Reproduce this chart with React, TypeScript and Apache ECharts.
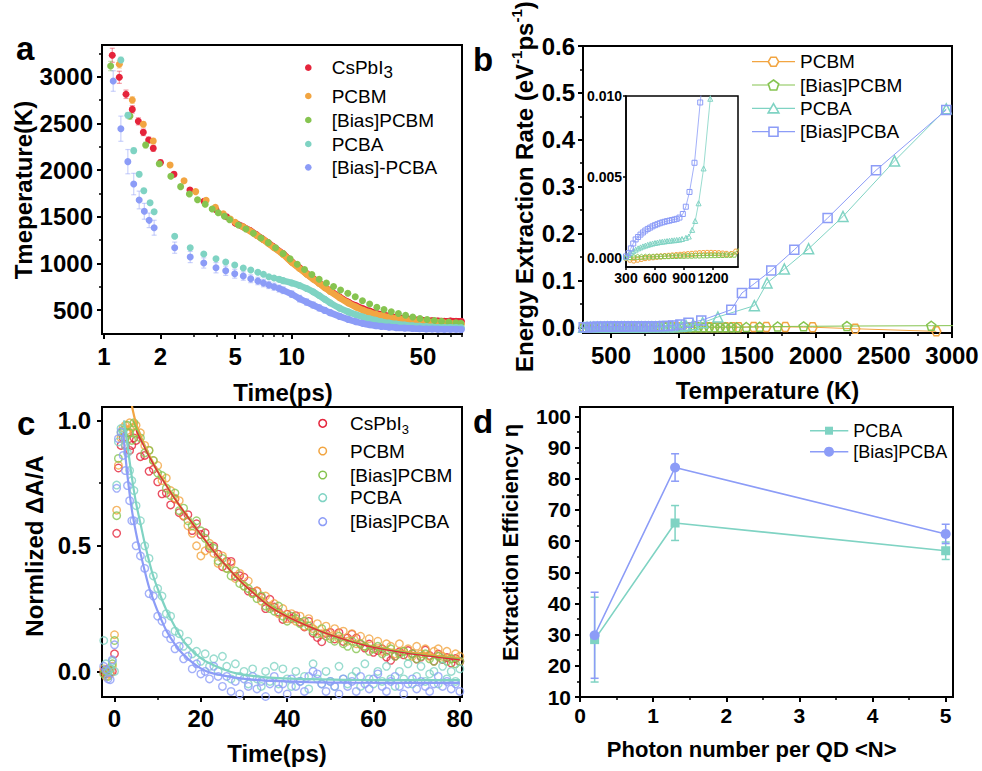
import React, { useEffect, useRef } from 'react';
import * as echarts from 'echarts';

const FONT = '"Liberation Sans", Arial, Helvetica, sans-serif';
const RED = '#e5243b';
const ORANGE = '#f2a541';
const GREEN = '#86c450';
const TEAL = '#7fd3c3';
const BLUE = '#8c9cf7';

// ---------------- Panel a : hot-carrier temperature vs time (log time)
const aNames = ['CsPbI3', 'PCBM', '[Bias]PCBM', 'PCBA', '[Bias]-PCBA'];
const aXTicks = [1, 2, 5, 10, 50];
const aXMinor = [3, 4, 6, 7, 8, 9, 20, 30, 40, 60, 70, 80];
const aYTicks = [500, 1000, 1500, 2000, 2500, 3000];
const aYMinor = [750, 1250, 1750, 2250, 2750, 3250];
// [time ps, temperature K, error K]
const aCsPbI3 = [
  [1.107, 3230, 75], [1.207, 2994, 65], [1.31, 2812, 45], [1.415, 2650, 40], [1.524, 2522, 38], [1.62, 2404, 35],
  [1.73, 2322, 32], [1.83, 2233, 32], [2.0, 2080, 28], [2.36, 1955, 25], [2.87, 1786, 22], [3.41, 1665, 20],
  [3.95, 1575, 20], [4.5, 1500, 18], [5, 1432, 18], [5.5, 1392, 16], [6, 1352, 15], [6.5, 1305, 15], [7, 1262, 14],
  [7.5, 1220, 14], [8, 1178, 13], [9, 1102, 13], [10, 1018, 12], [11, 952, 12], [12, 890, 12], [13, 838, 11],
  [14, 790, 11], [15, 746, 11], [16, 706, 10], [18, 640, 10], [20, 585, 10], [22, 545, 10], [24, 512, 10],
  [26, 488, 10], [28, 468, 10], [30, 452, 10], [33, 435, 10], [36, 421, 10], [40, 408, 10], [44, 399, 10],
  [48, 392, 10], [52, 387, 10], [56, 384, 10], [60, 382, 10], [65, 380, 10], [70, 382, 10], [75, 380, 10], [80, 378, 10],
];
const aPCBM = [
  [1.207, 3133, 40], [1.415, 2751, 35], [1.62, 2490, 30], [1.83, 2311, 28], [2.25, 2054, 25], [2.67, 1886, 22],
  [3.08, 1769, 20], [3.5, 1676, 18], [3.92, 1601, 16], [4.32, 1532, 15], [4.71, 1475, 15], [5, 1440, 14],
  [5.5, 1392, 14], [6, 1346, 13], [6.5, 1300, 13], [7, 1258, 12], [7.5, 1215, 12], [8, 1172, 12], [9, 1095, 11],
  [10, 1012, 11], [11, 945, 11], [12, 885, 10], [13, 832, 10], [14, 785, 10], [15, 740, 10], [16, 700, 10],
  [18, 632, 9], [20, 575, 9], [22, 532, 9], [24, 498, 9], [26, 473, 9], [28, 454, 9], [30, 439, 9], [33, 422, 9],
  [36, 409, 9], [40, 397, 9], [44, 388, 9], [48, 380, 9], [52, 374, 9], [56, 369, 9], [60, 365, 9], [65, 360, 9],
  [70, 356, 9], [75, 353, 9], [80, 350, 9],
];
const aBiasPCBM = [
  [1.085, 3115, 50], [1.375, 2579, 35], [1.667, 2268, 30], [1.97, 2068, 25], [2.27, 1933, 22], [2.56, 1822, 20],
  [2.85, 1743, 18], [3.15, 1682, 16], [3.46, 1633, 15], [3.77, 1583, 15], [4.06, 1543, 14], [4.38, 1504, 14],
  [4.67, 1468, 13], [5.2, 1411, 13], [5.7, 1368, 12], [6.25, 1322, 12], [6.85, 1272, 12], [7.5, 1222, 11],
  [8.2, 1168, 11], [9.0, 1105, 11], [9.8, 1048, 10], [10.7, 990, 10], [11.7, 935, 10], [12.8, 880, 10],
  [14.0, 830, 10], [15.3, 790, 10], [16.7, 752, 10], [18.2, 715, 9], [19.9, 680, 9], [21.8, 643, 9],
  [23.8, 600, 9], [26.0, 565, 9], [28.4, 530, 9], [31.0, 505, 9], [33.9, 482, 9], [37.0, 462, 9], [40.4, 443, 9],
  [44.1, 425, 9], [48.2, 410, 9], [52.6, 398, 9], [57.5, 388, 9], [62.8, 378, 9], [68.6, 370, 9], [74.9, 362, 9],
  [79.5, 358, 9],
];
const aPCBA = [
  [1.23, 3180, 30], [1.34, 2587, 30], [1.44, 2208, 28], [1.54, 1954, 25], [1.63, 1779, 25], [1.76, 1650, 22],
  [1.85, 1553, 22], [2.38, 1290, 20], [2.88, 1168, 18], [3.4, 1100, 16], [3.95, 1050, 15], [4.45, 1014, 15],
  [4.97, 982, 14], [5.52, 950, 14], [6.05, 929, 13], [6.6, 904, 13], [7.07, 883, 12], [7.55, 857, 12],
  [8.05, 843, 12], [8.56, 829, 12], [9, 815, 14], [10, 790, 14], [11, 762, 14], [12, 730, 14], [13, 695, 14],
  [14, 655, 14], [15, 615, 14], [16, 578, 14], [18, 520, 13], [20, 480, 13], [22, 450, 12], [24, 425, 12],
  [26, 405, 12], [28, 390, 11], [30, 375, 11], [33, 360, 11], [36, 350, 10], [40, 340, 10], [44, 332, 10],
  [48, 327, 10], [52, 322, 10], [56, 318, 10], [60, 315, 10], [65, 313, 10], [70, 312, 10], [75, 311, 10], [80, 310, 10],
];
const aBiasPCBA = [
  [1.12, 2954, 110], [1.23, 2443, 135], [1.34, 2090, 130], [1.44, 1850, 115], [1.54, 1679, 95], [1.64, 1558, 85],
  [1.74, 1461, 78], [1.85, 1382, 80], [2.38, 1168, 60], [2.88, 1068, 60], [3.4, 1004, 55], [3.95, 953, 55],
  [4.45, 921, 50], [4.97, 889, 48], [5.52, 864, 45], [6.05, 835, 42], [6.6, 811, 40], [7.07, 789, 40],
  [7.55, 768, 38], [8.05, 750, 38], [8.56, 730, 38], [9, 712, 36], [10, 670, 35], [11, 622, 35], [12, 585, 34],
  [13, 553, 33], [14, 523, 32], [15, 496, 31], [16, 472, 30], [18, 432, 28], [20, 400, 26], [22, 375, 24],
  [24, 356, 22], [26, 342, 20], [28, 332, 19], [30, 325, 18], [33, 317, 17], [36, 311, 16], [40, 306, 15],
  [44, 302, 14], [48, 299, 14], [52, 297, 13], [56, 296, 13], [60, 295, 12], [65, 294, 12], [70, 293, 12],
  [75, 293, 12], [80, 292, 12],
];

// ---------------- Panel b : energy extraction rate vs temperature
const bNames = ['PCBM', '[Bias]PCBM', 'PCBA', '[Bias]PCBA'];
const bXTicks = [500, 1000, 1500, 2000, 2500, 3000];
const bXMinor = [750, 1250, 1750, 2250, 2750];
const bYTicks = [0, 0.1, 0.2, 0.3, 0.4, 0.5, 0.6];
const bYMinor = [0.05, 0.15, 0.25, 0.35, 0.45, 0.55];
const insXTicks = [300, 600, 900, 1200];
const insYTicks = [0, 0.005, 0.01];
const bPCBM = [
  [300, 0], [340, -0.0001], [380, -0.00015], [420, -0.0001], [460, -0.00005], [500, 0], [540, 0.00003],
  [580, 0.00005], [620, 0.00008], [660, 0.0001], [700, 0.00012], [740, 0.00014], [780, 0.00016], [820, 0.00018],
  [860, 0.0002], [900, 0.00022], [940, 0.00024], [980, 0.00026], [1020, 0.00028], [1060, 0.0003], [1100, 0.00031],
  [1140, 0.00032], [1180, 0.00032], [1220, 0.00031], [1260, 0.0003], [1300, 0.00028], [1340, 0.00026],
  [1390, 0.00025], [1436, 0.0004], [1546, 0.0008], [1639, 0.001], [1778, 0.001], [1978, 0.0003], [2291, -0.003],
  [2885, -0.0085],
];
const bBiasPCBM = [
  [300, 0.00005], [340, 0.00006], [380, 0.00007], [420, 0.00008], [460, 0.00008], [500, 0.00009], [540, 0.0001],
  [580, 0.0001], [620, 0.00011], [660, 0.00011], [700, 0.00012], [740, 0.00012], [780, 0.00013], [820, 0.00013],
  [860, 0.00014], [900, 0.00014], [940, 0.00015], [980, 0.00015], [1020, 0.00016], [1060, 0.00016],
  [1100, 0.00017], [1140, 0.00017], [1180, 0.00018], [1220, 0.00018], [1260, 0.00019], [1300, 0.00019],
  [1340, 0.0002], [1380, 0.0002], [1420, 0.00021], [1492, 0.0008], [1590, 0.0012], [1722, 0.0018],
  [1912, 0.0022], [2230, 0.0028], [2848, 0.0035], [3300, 0.0042],
];
const bPCBA = [
  [300, 0.00005], [325, 0.0002], [350, 0.00032], [375, 0.00043], [400, 0.00052], [425, 0.0006], [450, 0.00066],
  [475, 0.00072], [500, 0.00077], [525, 0.00082], [550, 0.00086], [575, 0.0009], [600, 0.00093], [625, 0.00096],
  [650, 0.00099], [675, 0.00101], [700, 0.00103], [725, 0.00105], [750, 0.00107], [775, 0.00109], [800, 0.0011],
  [825, 0.00112], [853, 0.00114], [880, 0.00118], [920, 0.00125], [950, 0.00133], [985, 0.00174], [1016, 0.00229],
  [1051, 0.00338], [1103, 0.00553], [1172, 0.00983], [1284, 0.0222], [1551, 0.0462], [1644, 0.0946],
  [1771, 0.1244], [1949, 0.1676], [2201, 0.2365], [2579, 0.355], [2958, 0.466],
];
const bBiasPCBA = [
  [300, 0.0001], [325, 0.0003], [350, 0.0006], [375, 0.0009], [400, 0.00115], [425, 0.0013], [450, 0.00145],
  [475, 0.00158], [500, 0.0017], [525, 0.0018], [550, 0.00188], [575, 0.00196], [600, 0.00203], [625, 0.00209],
  [650, 0.00215], [675, 0.0022], [700, 0.00224], [725, 0.00228], [750, 0.00231], [775, 0.00235], [800, 0.00238],
  [825, 0.00242], [853, 0.0025], [888, 0.00272], [919, 0.00317], [957, 0.00408], [1009, 0.00588], [1068, 0.0096],
  [1162, 0.0149], [1382, 0.0377], [1460, 0.0733], [1550, 0.093], [1675, 0.1215], [1844, 0.1655], [2088, 0.233],
  [2443, 0.335], [2958, 0.4636],
];

// ---------------- Panel c : normalized transient absorption kinetics
const cNames = ['CsPbI3', 'PCBM', '[Bias]PCBM', 'PCBA', '[Bias]PCBA'];
const cXTicks = [0, 20, 40, 60, 80];
const cXMinor = [10, 30, 50, 70];
const cYTicks = [0, 0.5, 1];
const cYMinor = [0.25, 0.75];
const cTime = [
  -2.5, -2, -1.5, -1, -0.5, 0, 0.5, 0.9, 1.5, 2, 2.5, 3, 3.5, 4, 4.5,
  5, 6, 7, 8, 9, 10, 11, 12, 13, 14, 15, 16, 17, 18, 19, 20, 21, 22, 23, 24, 25, 26, 27, 28, 29, 30,
  31, 32, 33, 34, 35, 36, 37, 38, 39, 40, 41, 42, 43, 44, 45, 46, 47, 48, 49, 50, 51, 52, 53, 54, 55,
  56, 57, 58, 59, 60, 61, 62, 63, 64, 65, 66, 67, 68, 69, 70, 71, 72, 73, 74, 75, 76, 77, 78, 79, 80,
];
const cCsPbI3 = [
  0.0, -0.01, 0.01, -0.005, 0.0, 0.07, 0.55, 0.81, 0.9, 0.93, 0.9, 0.95, 0.88, 0.9, 0.93,
  0.92, 0.855, 0.86, 0.797, 0.805, 0.755, 0.707, 0.71, 0.663, 0.687, 0.632, 0.618, 0.624, 0.561, 0.588, 0.545,
  0.552, 0.49, 0.498, 0.467, 0.417, 0.438, 0.438, 0.378, 0.381, 0.375, 0.32, 0.315, 0.32, 0.295, 0.25, 0.287,
  0.256, 0.236, 0.207, 0.228, 0.21, 0.222, 0.195, 0.177, 0.199, 0.152, 0.135, 0.118, 0.151, 0.155, 0.129,
  0.154, 0.119, 0.133, 0.148, 0.133, 0.108, 0.093, 0.109, 0.076, 0.083, 0.09, 0.057, 0.044, 0.061, 0.078,
  0.066, 0.083, 0.071, 0.049, 0.057, 0.085, 0.063, 0.041, 0.069, 0.047, 0.055, 0.033, 0.051, 0.039,
];
const cPCBM = [
  0.01, -0.02, 0.0, -0.01, 0.02, 0.146, 0.642, 0.821, 0.93, 0.97, 0.98, 0.96, 0.99, 0.97, 0.95,
  0.98, 0.95, 0.9, 0.88, 0.84, 0.82, 0.76, 0.77, 0.72, 0.69, 0.68, 0.62, 0.58, 0.55, 0.5, 0.46,
  0.48, 0.51, 0.47, 0.43, 0.46, 0.41, 0.43, 0.37, 0.39, 0.34, 0.36, 0.31, 0.32, 0.28, 0.3, 0.26,
  0.27, 0.23, 0.25, 0.21, 0.23, 0.2, 0.22, 0.18, 0.21, 0.17, 0.19, 0.15, 0.18, 0.14, 0.17, 0.13,
  0.16, 0.12, 0.15, 0.11, 0.14, 0.1, 0.13, 0.09, 0.12, 0.08, 0.11, 0.1, 0.07, 0.11, 0.08, 0.09,
  0.06, 0.1, 0.07, 0.09, 0.06, 0.08, 0.09, 0.06, 0.08, 0.05, 0.07, 0.06,
];
const cBiasPCBM = [
  -0.01, 0.0, -0.02, 0.01, 0.03, 0.123, 0.62, 0.848, 0.95, 0.96, 0.93, 0.98, 0.95, 0.92, 0.99,
  0.95, 0.93, 0.87, 0.88, 0.84, 0.79, 0.78, 0.73, 0.7, 0.71, 0.64, 0.65, 0.6, 0.58, 0.6, 0.56,
  0.53, 0.5, 0.49, 0.44, 0.45, 0.41, 0.38, 0.4, 0.35, 0.34, 0.33, 0.31, 0.29, 0.3, 0.26, 0.25,
  0.24, 0.26, 0.22, 0.2, 0.22, 0.21, 0.19, 0.2, 0.18, 0.16, 0.15, 0.17, 0.14, 0.13, 0.12, 0.14,
  0.11, 0.1, 0.12, 0.09, 0.11, 0.1, 0.08, 0.09, 0.1, 0.07, 0.08, 0.09, 0.06, 0.07, 0.08, 0.06,
  0.07, 0.05, 0.06, 0.07, 0.05, 0.04, 0.06, 0.05, 0.04, 0.05, 0.03, 0.04,
];
const cPCBA = [
  0.123, 0.03, 0.0, 0.01, 0.04, 0.0, 0.742, 0.914, 0.967, 0.95, 0.9, 0.87, 0.8, 0.76, 0.72,
  0.66, 0.6, 0.5, 0.45, 0.38, 0.33, 0.3, 0.23, 0.22, 0.16, 0.15, 0.1, 0.12, 0.07, 0.08, 0.04,
  0.07, 0.02, 0.05, 0.0, 0.06, 0.02, -0.03, 0.03, -0.02, 0.0, -0.05, 0.01, -0.03, -0.06, 0.0, -0.04,
  0.02, -0.05, 0.01, -0.03, -0.06, 0.0, -0.04, -0.02, -0.07, 0.03, -0.03, -0.05, 0.0, -0.04, -0.06,
  0.02, -0.03, -0.05, -0.02, 0.0, -0.06, 0.03, -0.03, -0.05, 0.0, -0.04, 0.02, -0.03, -0.06, 0.0,
  -0.03, 0.03, -0.05, -0.02, 0.02, -0.04, -0.01, 0.0, -0.05, 0.02, -0.03, 0.0, -0.04, 0.01,
];
const cBiasPCBA = [
  0.02, 0.007, -0.03, -0.033, 0.046, 0.106, 0.729, 0.927, 0.954, 0.86, 0.8, 0.74, 0.68, 0.6, 0.6,
  0.5, 0.46, 0.41, 0.31, 0.3, 0.22, 0.2, 0.15, 0.13, 0.09, 0.1, 0.05, 0.06, 0.01, 0.03, -0.01,
  0.0, -0.03, 0.02, -0.02, -0.06, -0.02, -0.08, -0.04, -0.09, -0.03, -0.06, -0.02, -0.07, -0.04, -0.1, -0.05,
  -0.02, -0.07, -0.05, -0.09, -0.03, -0.06, -0.04, -0.08, -0.02, 0.0, -0.01, -0.05, -0.08, -0.04, -0.06,
  -0.09, -0.03, -0.06, -0.04, -0.08, -0.02, -0.05, -0.07, -0.03, -0.01, -0.06, -0.08, -0.04, -0.02, -0.06,
  -0.09, -0.05, -0.03, -0.07, -0.04, -0.06, -0.08, -0.05, -0.02, -0.06, -0.04, -0.07, -0.05, -0.08,
];
// fitted curves [t, value]
const cFitCsPbI3 = [
  [5, 0.96], [6, 0.925], [7, 0.89], [8, 0.857], [10, 0.795], [12, 0.74], [14, 0.687], [16, 0.638], [18, 0.591],
  [20, 0.545], [22, 0.5], [24, 0.457], [26, 0.418], [28, 0.38], [30, 0.345], [33, 0.3], [36, 0.258], [40, 0.218],
  [45, 0.179], [50, 0.145], [55, 0.118], [60, 0.096], [65, 0.08], [70, 0.067], [75, 0.056], [80, 0.046],
];
const cFitPCBM = [
  [3.8, 1.08], [4.3, 1.035], [5, 0.987], [6, 0.94], [7, 0.9], [8, 0.863], [10, 0.798], [12, 0.742], [14, 0.688],
  [16, 0.638], [18, 0.591], [20, 0.545], [22, 0.5], [24, 0.457], [26, 0.418], [28, 0.38], [30, 0.346], [33, 0.301],
  [36, 0.259], [40, 0.219], [45, 0.18], [50, 0.147], [55, 0.12], [60, 0.099], [65, 0.084], [70, 0.072],
  [75, 0.061], [80, 0.052],
];
const cFitBiasPCBM = [
  [4.3, 1.0], [5, 0.972], [6, 0.93], [7, 0.893], [8, 0.859], [10, 0.796], [12, 0.74], [14, 0.687], [16, 0.637],
  [18, 0.59], [20, 0.544], [22, 0.499], [24, 0.456], [26, 0.417], [28, 0.379], [30, 0.345], [33, 0.3], [36, 0.258],
  [40, 0.218], [45, 0.179], [50, 0.146], [55, 0.119], [60, 0.098], [65, 0.082], [70, 0.069], [75, 0.058], [80, 0.049],
];
const cFitPCBA = [
  [2.2, 1.0], [3, 0.9], [4, 0.775], [5, 0.67], [6, 0.59], [7, 0.51], [8, 0.44], [9, 0.378], [10, 0.33],
  [12, 0.245], [14, 0.178], [16, 0.12], [18, 0.082], [20, 0.053], [22, 0.032], [25, 0.01], [28, -0.007],
  [32, -0.018], [38, -0.027], [45, -0.031], [55, -0.034], [80, -0.035],
];
const cFitBiasPCBA = [
  [2, 0.95], [3, 0.78], [4, 0.645], [5, 0.55], [6, 0.472], [7, 0.4], [8, 0.335], [9, 0.285], [10, 0.24],
  [12, 0.163], [14, 0.108], [16, 0.066], [18, 0.036], [20, 0.012], [22, -0.004], [25, -0.016], [28, -0.025],
  [32, -0.033], [38, -0.039], [45, -0.043], [55, -0.045], [80, -0.046],
];

// ---------------- Panel d : extraction efficiency vs photon number
const dNames = ['PCBA', '[Bias]PCBA'];
const dXTicks = [0, 1, 2, 3, 4, 5];
const dXMinor = [0.5, 1.5, 2.5, 3.5, 4.5];
const dYTicks = [10, 20, 30, 40, 50, 60, 70, 80, 90, 100];
const dYMinor = [15, 25, 35, 45, 55, 65, 75, 85, 95];
const dX = [0.2, 1.3, 5];
const dPCBA = [28.4, 65.8, 56.9];
const dPCBAErr = [13.6, 5.6, 2.8];
const dBiasPCBA = [29.8, 83.6, 62.3];
const dBiasPCBAErr = [13.8, 4.4, 3.1];

// ---------------- helpers
function axisPair(dim: 'x' | 'y', s: any) {
  const pos = dim === 'x' ? 'bottom' : 'left';
  const lw = s.lw ?? 2;
  const common: any = {
    type: s.type || 'value', gridIndex: s.grid, min: s.min, max: s.max, position: pos,
    splitLine: { show: false }, minorTick: { show: false }, minorSplitLine: { show: false },
  };
  if (s.type === 'log') common.logBase = 10;
  const major = {
    ...common,
    axisLine: { show: true, onZero: false, lineStyle: { color: '#000', width: lw } },
    axisTick: { show: true, inside: false, length: s.len, lineStyle: { color: '#000', width: lw }, customValues: s.ticks },
    axisLabel: {
      show: true, customValues: s.ticks, formatter: (v: number) => s.fmt(v), fontSize: s.size,
      fontWeight: 'bold', fontFamily: FONT, color: '#000', margin: s.margin, hideOverlap: false,
    },
  };
  const minorAx: any = {
    ...common,
    axisLine: { show: false, onZero: false },
    axisTick: { show: s.minor.length > 0, inside: false, length: s.mlen, lineStyle: { color: '#000', width: lw * 0.75 } },
    axisLabel: { show: false },
  };
  if (s.minor.length > 0) minorAx.axisTick.customValues = s.minor;
  return [major, minorAx];
}

function errorBars(data: number[][], ai: number, color: string, cap: number, lw: number, opacity: number, z: number) {
  return {
    type: 'custom', xAxisIndex: ai, yAxisIndex: ai, z, silent: true, clip: true,
    data: data.map((d) => [d[0], d[1] - d[2], d[1] + d[2]]),
    encode: { x: 0, y: [1, 2] },
    renderItem: (_p: any, api: any) => {
      const x = api.value(0);
      const lo = api.coord([x, api.value(1)]);
      const hi = api.coord([x, api.value(2)]);
      const st = { stroke: color, lineWidth: lw, opacity };
      const h = cap / 2;
      return {
        type: 'group',
        children: [
          { type: 'line', shape: { x1: lo[0], y1: lo[1], x2: hi[0], y2: hi[1] }, style: st },
          { type: 'line', shape: { x1: lo[0] - h, y1: lo[1], x2: lo[0] + h, y2: lo[1] }, style: st },
          { type: 'line', shape: { x1: hi[0] - h, y1: hi[1], x2: hi[0] + h, y2: hi[1] }, style: st },
        ],
      };
    },
  };
}

const HEX = 'path://M-10,0L-5,-8.66L5,-8.66L10,0L5,8.66L-5,8.66Z';
const PENT = 'path://M0,-10L9.51,-3.09L5.88,8.09L-5.88,8.09L-9.51,-3.09Z';

function txt(x: number, y: number, text: string, size: number, opts: any = {}) {
  return {
    type: 'text', x, y, rotation: opts.rotation || 0, z: 100, silent: true,
    style: {
      text, fill: '#000', fontSize: size, fontWeight: opts.weight || 'bold', fontFamily: FONT,
      align: opts.align || 'center', textAlign: opts.align || 'center',
      verticalAlign: 'middle', textVerticalAlign: 'middle', rich: opts.rich,
    },
  };
}

function legendLabel(x: number, y: number, name: string, size: number, subSize: number) {
  if (name === 'CsPbI3') {
    return txt(x, y, '{m|CsPbI}{s|3}', size, {
      weight: 'normal', align: 'left',
      rich: {
        m: { fontSize: size, lineHeight: size + 7, fontFamily: FONT, fill: '#000', fontWeight: 'normal' },
        s: { fontSize: subSize, lineHeight: subSize, verticalAlign: 'bottom', fontFamily: FONT, fill: '#000', fontWeight: 'normal' },
      },
    });
  }
  return txt(x, y, name, size, { weight: 'normal', align: 'left' });
}

function regPoly(cx: number, cy: number, r: number, n: number, start: number) {
  const pts: number[][] = [];
  for (let k = 0; k < n; k++) {
    const a = start + (k * 2 * Math.PI) / n;
    pts.push([cx + r * Math.cos(a), cy + r * Math.sin(a)]);
  }
  return pts;
}

function buildOption() {
  const G = { show: true, borderColor: '#000', borderWidth: 2, backgroundColor: 'rgba(0,0,0,0)', containLabel: false, outerBoundsMode: 'none' };
  const grid = [
    { ...G, left: 102, top: 45, width: 360, height: 289 },
    { ...G, left: 583, top: 46, width: 369, height: 287 },
    { ...G, left: 626, top: 96, width: 112, height: 171, borderWidth: 1.5, backgroundColor: '#fff' },
    { ...G, left: 102, top: 407, width: 360, height: 290 },
    { ...G, left: 580, top: 407, width: 373, height: 290 },
  ];
  const f0 = (v: number) => String(Math.round(v));
  const xAxis = [
    ...axisPair('x', { grid: 0, type: 'log', min: 0.976, max: 80.7, ticks: aXTicks, minor: aXMinor, fmt: f0, size: 24, margin: 10, len: 5, mlen: 3 }),
    ...axisPair('x', { grid: 1, min: 295, max: 3000, ticks: bXTicks, minor: bXMinor, fmt: f0, size: 24, margin: 10, len: 5, mlen: 3 }),
    ...axisPair('x', { grid: 2, min: 300, max: 1459, ticks: insXTicks, minor: [], fmt: f0, size: 14, margin: 4, len: 3, mlen: 2, lw: 1.5 }),
    ...axisPair('x', { grid: 3, min: -2.9, max: 80.5, ticks: cXTicks, minor: cXMinor, fmt: f0, size: 24, margin: 9, len: 5, mlen: 3 }),
    ...axisPair('x', { grid: 4, min: 0, max: 5.1, ticks: dXTicks, minor: dXMinor, fmt: f0, size: 21, margin: 8, len: 5, mlen: 3 }),
  ];
  const yAxis = [
    ...axisPair('y', { grid: 0, min: 243, max: 3340, ticks: aYTicks, minor: aYMinor, fmt: f0, size: 24, margin: 9, len: 5, mlen: 3 }),
    ...axisPair('y', { grid: 1, min: -0.012, max: 0.6, ticks: bYTicks, minor: bYMinor, fmt: (v: number) => v.toFixed(1), size: 24, margin: 8, len: 5, mlen: 3 }),
    ...axisPair('y', { grid: 2, min: -0.00055, max: 0.01, ticks: insYTicks, minor: [], fmt: (v: number) => v.toFixed(3), size: 14, margin: 4, len: 3, mlen: 2, lw: 1.5 }),
    ...axisPair('y', { grid: 3, min: -0.102, max: 1.053, ticks: cYTicks, minor: cYMinor, fmt: (v: number) => v.toFixed(1), size: 24, margin: 11, len: 5, mlen: 3 }),
    ...axisPair('y', { grid: 4, min: 10, max: 103, ticks: dYTicks, minor: dYMinor, fmt: f0, size: 21, margin: 9, len: 5, mlen: 3 }),
  ];

  const series: any[] = [];

  // panel a
  const aSets = [aCsPbI3, aPCBM, aBiasPCBM, aPCBA, aBiasPCBA];
  const aColors = [RED, ORANGE, GREEN, TEAL, BLUE];
  const aBandStart = [5, 5.5, 999, 8.5, 8.5];
  aSets.forEach((d, i) => {
    series.push(errorBars(d, 0, aColors[i], 5, 1.2, 0.45, 1));
    const band = d.filter((p) => p[0] >= aBandStart[i]);
    if (band.length > 1) {
      series.push({
        type: 'line', xAxisIndex: 0, yAxisIndex: 0, silent: true, z: 2 + i * 2,
        data: band.map((p) => [p[0], p[1]]), smooth: 0.3, showSymbol: false, symbol: 'none',
        lineStyle: { color: aColors[i], width: 6.5, cap: 'round', join: 'round' },
      });
    }
    series.push({
      type: 'scatter', name: aNames[i], xAxisIndex: 0, yAxisIndex: 0, z: 3 + i * 2, silent: true,
      data: d.map((p) => [p[0], p[1]]), symbol: 'circle', symbolSize: 7,
      itemStyle: { color: aColors[i], opacity: 1 },
    });
  });

  // panel b (main + inset)
  const bSets = [bPCBM, bBiasPCBM, bPCBA, bBiasPCBA];
  const bColors = [ORANGE, GREEN, TEAL, BLUE];
  const bSymbols = [HEX, PENT, 'triangle', 'rect'];
  [2, 4].forEach((ai) => {
    bSets.forEach((d, i) => {
      const main = ai === 2;
      series.push({
        type: 'line', name: bNames[i], xAxisIndex: ai, yAxisIndex: ai, data: d, clip: true, silent: true,
        z: 10 + i, symbol: bSymbols[i], symbolSize: main ? (i === 2 ? 10 : 9) : 5, showSymbol: true, showAllSymbol: true,
        lineStyle: { color: bColors[i], width: main ? 1 : 0.8 },
        itemStyle: { color: 'rgba(255,255,255,0)', borderColor: bColors[i], borderWidth: main ? 1.5 : 1 },
      });
    });
  });

  // panel c
  const cSets = [cCsPbI3, cPCBM, cBiasPCBM, cPCBA, cBiasPCBA];
  const cColors = [RED, ORANGE, GREEN, TEAL, BLUE];
  cSets.forEach((vals, i) => {
    series.push({
      type: 'scatter', name: cNames[i], xAxisIndex: 6, yAxisIndex: 6, z: 3 + i, silent: true,
      data: cTime.map((t, k) => [t, vals[k]]), symbol: 'circle', symbolSize: 7.5,
      itemStyle: { color: 'rgba(255,255,255,0)', borderColor: cColors[i], borderWidth: 1.4 },
    });
  });
  const cFits = [
    [cFitPCBA, TEAL, 2.2], [cFitBiasPCBA, BLUE, 2.2],
    [cFitPCBM, ORANGE, 2.2], [cFitBiasPCBM, GREEN, 1.6], [cFitCsPbI3, RED, 1.3],
  ];
  cFits.forEach(([d, col, w]: any, i) => {
    series.push({
      type: 'line', xAxisIndex: 6, yAxisIndex: 6, z: 20 + i, silent: true, clip: true,
      data: d, smooth: 0.35, showSymbol: false, symbol: 'none', lineStyle: { color: col, width: w },
    });
  });

  // panel d
  const dSets = [
    [dPCBA, dPCBAErr, TEAL, 'rect', 9],
    [dBiasPCBA, dBiasPCBAErr, BLUE, 'circle', 10],
  ];
  dSets.forEach(([vals, errs, col, sym, size]: any, i) => {
    series.push(errorBars(dX.map((x, k) => [x, vals[k], errs[k]]), 8, col, 8, 1.5, 1, 5 + i));
    series.push({
      type: 'line', name: dNames[i], xAxisIndex: 8, yAxisIndex: 8, z: 8 + i, silent: true,
      data: dX.map((x, k) => [x, vals[k]]), symbol: sym, symbolSize: size, showSymbol: true,
      lineStyle: { color: col, width: 1.6 }, itemStyle: { color: col },
    });
  });

  // graphics: titles, panel letters, legends
  const g: any[] = [];
  g.push(txt(16, 48.5, 'a', 33, { align: 'left' }));
  g.push(txt(473, 59, 'b', 33, { align: 'left' }));
  g.push(txt(17, 423.5, 'c', 33, { align: 'left' }));
  g.push(txt(473, 421.5, 'd', 33, { align: 'left' }));

  g.push(txt(283, 392, 'Time(ps)', 24));
  g.push(txt(23, 190, 'Tmeperature(K)', 24, { rotation: Math.PI / 2 }));
  g.push(txt(767.5, 390, 'Temperature (K)', 24));
  g.push(txt(524, 372, '{m|Energy Extraction Rate (eV}{s|-1}{m|ps}{s|-1}{m|)}', 24, {
    rotation: Math.PI / 2, align: 'left',
    rich: {
      m: { fontSize: 24, lineHeight: 30, fontWeight: 'bold', fontFamily: FONT, fill: '#000' },
      s: { fontSize: 15, lineHeight: 15, verticalAlign: 'top', fontWeight: 'bold', fontFamily: FONT, fill: '#000' },
    },
  }));
  g.push(txt(277, 753.6, 'Time(ps)', 24));
  g.push(txt(34, 546, 'Normlized \u0394A/A', 24, { rotation: Math.PI / 2 }));
  g.push(txt(751.7, 749.6, 'Photon number per QD <N>', 22));
  g.push(txt(510, 542.5, 'Extraction Efficiency \u03b7', 22, { rotation: Math.PI / 2 }));

  // legend a
  const aRows = [67.7, 96, 120, 144, 167.3];
  aNames.forEach((n, i) => {
    g.push({ type: 'circle', z: 100, silent: true, shape: { cx: 308.3, cy: aRows[i], r: 3.3 }, style: { fill: aColors[i] } });
    g.push(legendLabel(331.7, aRows[i], n, 19, 17));
  });
  // legend b
  const bRows = [61.7, 85, 108.3, 131.7];
  bNames.forEach((n, i) => {
    const cy = bRows[i];
    const cx = 773.5;
    g.push({ type: 'line', z: 100, silent: true, shape: { x1: 752, y1: cy, x2: 795, y2: cy }, style: { stroke: bColors[i], lineWidth: 1.2 } });
    const ms = { fill: '#fff', stroke: bColors[i], lineWidth: 1.6 };
    if (i === 0) g.push({ type: 'polygon', z: 101, silent: true, shape: { points: regPoly(cx, cy, 5.2, 6, 0) }, style: ms });
    if (i === 1) g.push({ type: 'polygon', z: 101, silent: true, shape: { points: regPoly(cx, cy + 0.5, 5.5, 5, -Math.PI / 2) }, style: ms });
    if (i === 2) g.push({ type: 'polygon', z: 101, silent: true, shape: { points: regPoly(cx, cy + 1.5, 6.2, 3, -Math.PI / 2) }, style: ms });
    if (i === 3) g.push({ type: 'rect', z: 101, silent: true, shape: { x: cx - 4.5, y: cy - 4.5, width: 9, height: 9 }, style: ms });
    g.push(legendLabel(800, cy, n, 19, 15));
  });
  // legend c
  const cRows = [423.3, 451, 475, 497.7, 521.7];
  cNames.forEach((n, i) => {
    g.push({ type: 'circle', z: 100, silent: true, shape: { cx: 322.7, cy: cRows[i], r: 3.8 }, style: { fill: 'rgba(255,255,255,0)', stroke: cColors[i], lineWidth: 1.5 } });
    g.push(legendLabel(350, cRows[i], n, 19, 13));
  });
  // legend d
  const dRows = [430.7, 451.7];
  const dCols = [TEAL, BLUE];
  dNames.forEach((n, i) => {
    const cy = dRows[i];
    g.push({ type: 'line', z: 100, silent: true, shape: { x1: 810, y1: cy, x2: 848.3, y2: cy }, style: { stroke: dCols[i], lineWidth: 1.6 } });
    if (i === 0) g.push({ type: 'rect', z: 101, silent: true, shape: { x: 825, y: cy - 4, width: 8, height: 8 }, style: { fill: dCols[i] } });
    else g.push({ type: 'circle', z: 101, silent: true, shape: { cx: 829, cy, r: 5 }, style: { fill: dCols[i] } });
    g.push(legendLabel(853.3, cy, n, 18, 14));
  });

  return {
    animation: false,
    backgroundColor: '#fff',
    textStyle: { fontFamily: FONT },
    grid, xAxis, yAxis, series,
    graphic: { elements: g },
  };
}

const App = () => {
  const ref = useRef<HTMLDivElement>(null);
  useEffect(() => {
    const chart = echarts.init(ref.current as HTMLDivElement, null, { renderer: 'svg' });
    chart.setOption(buildOption() as any);
    return () => chart.dispose();
  }, []);
  return (
    <div
      ref={ref}
      style={{ position: 'fixed', left: 0, top: 0, width: 982, height: 771, background: '#fff' }}
    />
  );
};

export default App;
